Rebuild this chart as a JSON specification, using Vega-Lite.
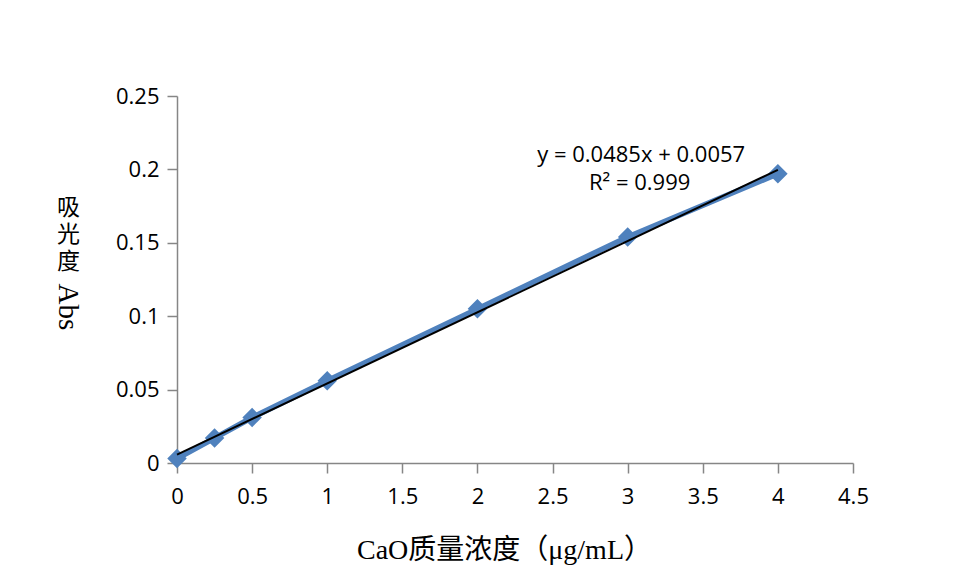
{
  "$schema": "https://vega.github.io/schema/vega-lite/v6.json",
  "width": 676,
  "height": 367,
  "autosize": "none",
  "padding": {"left": 177, "top": 96, "right": 109, "bottom": 117},
  "background": "white",
  "config": {
    "view": {"stroke": null},
    "axis": {"grid": false, "domainColor": "#868686", "tickColor": "#868686", "domainWidth": 1.5, "tickWidth": 1.5, "tickSize": 10, "labelColor": "#000000", "labelFont": "Open Sans", "labelFontSize": 22, "labelFlush": false, "labelOverlap": false, "titleColor": "#000000", "titleFontWeight": "normal"}
  },
  "datasets": {
    "measured": [
      {"conc": 0, "abs": 0.003},
      {"conc": 0.25, "abs": 0.017},
      {"conc": 0.5, "abs": 0.031},
      {"conc": 1, "abs": 0.056},
      {"conc": 2, "abs": 0.105},
      {"conc": 3, "abs": 0.154},
      {"conc": 4, "abs": 0.197}
    ],
    "trend": [
      {"conc": 0, "abs": 0.0057},
      {"conc": 4, "abs": 0.1997}
    ],
    "equation": [
      {"conc": 3.09, "abs": 0.2098, "label": "y = 0.0485x + 0.0057"},
      {"conc": 3.08, "abs": 0.1907, "label": "R² = 0.999"}
    ],
    "ytitle": [
      {"conc": -0.726, "abs": 0.1063, "label": "Abs"}
    ]
  },
  "layer": [
    {
      "data": {"name": "measured"},
      "mark": {"type": "line", "color": "#4F81BD", "strokeWidth": 5.5},
      "encoding": {
        "x": {"field": "conc", "type": "quantitative", "scale": {"domain": [0, 4.5], "nice": false, "zero": false},
          "axis": {"values": [0, 0.5, 1, 1.5, 2, 2.5, 3, 3.5, 4, 4.5], "format": "~g", "labelPadding": 13,
            "title": "CaO质量浓度（μg/mL）", "titleFont": "Liberation Serif, Noto Sans CJK SC", "titleFontSize": 28,
            "titleBaseline": "alphabetic", "titleAnchor": "start", "titleAlign": "center", "titleX": 327, "titleY": 95}},
        "y": {"field": "abs", "type": "quantitative", "scale": {"domain": [0, 0.25], "nice": false, "zero": false},
          "axis": {"values": [0, 0.05, 0.1, 0.15, 0.2, 0.25], "format": "~g", "labelPadding": 8,
            "title": ["吸", "光", "度"], "titleFont": "Noto Sans CJK SC", "titleFontSize": 23, "titleAngle": 0,
            "titleBaseline": "top", "titleAlign": "center", "titleAnchor": "start", "titleLineHeight": 27, "titleX": -109, "titleY": 100}}
      }
    },
    {
      "data": {"name": "measured"},
      "mark": {"type": "point", "shape": "diamond", "filled": true, "opacity": 1, "color": "#4F81BD", "size": 380},
      "encoding": {
        "x": {"field": "conc", "type": "quantitative"},
        "y": {"field": "abs", "type": "quantitative"}
      }
    },
    {
      "data": {"name": "trend"},
      "mark": {"type": "line", "color": "#000000", "strokeWidth": 2},
      "encoding": {
        "x": {"field": "conc", "type": "quantitative"},
        "y": {"field": "abs", "type": "quantitative"}
      }
    },
    {
      "data": {"name": "equation"},
      "mark": {"type": "text", "font": "Open Sans", "fontSize": 22, "color": "#000000", "align": "center", "baseline": "middle"},
      "encoding": {
        "x": {"field": "conc", "type": "quantitative"},
        "y": {"field": "abs", "type": "quantitative"},
        "text": {"field": "label"}
      }
    },
    {
      "data": {"name": "ytitle"},
      "mark": {"type": "text", "font": "Liberation Serif", "fontSize": 29, "color": "#000000", "align": "center", "baseline": "middle", "angle": 90},
      "encoding": {
        "x": {"field": "conc", "type": "quantitative"},
        "y": {"field": "abs", "type": "quantitative"},
        "text": {"field": "label"}
      }
    }
  ]
}
